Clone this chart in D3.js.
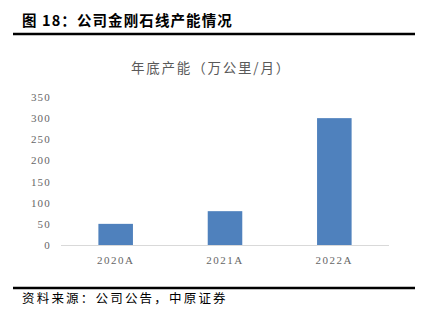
<!DOCTYPE html>
<html>
  <head>
    <meta charset="UTF-8" />
    <style>
      body { margin: 0; background: #fff; }
      svg { display: block; }
    </style>
  </head>
  <body>
    <svg></svg>
    <script src="https://d3js.org/d3.v7.min.js"></script>
    <script>
      const years = ["2020A", "2021A", "2022A"];
      const capacity = [50, 80, 300];
      const yTicks = [0, 50, 100, 150, 200, 250, 300, 350];

      let width = 430,
        height = 321;

      let svg = d3.select("svg").attr("width", width).attr("height", height);
      const cjk = "'Noto Sans CJK SC', sans-serif";
      const serif = "'Liberation Serif', 'DejaVu Serif', serif";

      // header
      svg.append("text")
        .attr("x", 22).attr("y", 26)
        .style("font-family", cjk).style("font-weight", "bold")
        .style("font-size", "14.5px").style("letter-spacing", "1.1px")
        .attr("fill", "#000")
        .text("图 18：公司金刚石线产能情况");
      svg.append("line")
        .attr("x1", 13).attr("x2", 415).attr("y1", 34).attr("y2", 34)
        .attr("stroke", "#000").attr("stroke-width", 2.5);

      // chart title
      svg.append("text")
        .attr("x", 211).attr("y", 73)
        .attr("text-anchor", "middle")
        .style("font-family", cjk).style("font-size", "13.5px")
        .style("letter-spacing", "1.8px")
        .attr("fill", "#595959")
        .text("年底产能（万公里/月）");

      // scales
      const x = d3.scaleBand().domain(years).range([61, 389]).paddingInner(0.684).paddingOuter(0.342);
      const y = d3.scaleLinear().domain([0, 350]).range([245, 97]);

      // y labels
      svg.append("g")
        .selectAll("text")
        .data(yTicks)
        .enter()
        .append("text")
        .attr("x", 51)
        .attr("y", (d) => y(d) + 4)
        .attr("text-anchor", "end")
        .style("font-family", serif).style("font-size", "11px")
        .style("letter-spacing", "1.2px")
        .attr("fill", "#666")
        .text((d) => d);

      // bars
      svg.append("g")
        .selectAll("rect")
        .data(capacity)
        .enter()
        .append("rect")
        .attr("x", (d, i) => x(years[i]))
        .attr("width", x.bandwidth())
        .attr("y", (d) => y(d))
        .attr("height", (d) => y(0) - y(d))
        .attr("fill", "#4f81bd");

      // x axis
      svg.append("line")
        .attr("x1", 61).attr("x2", 389)
        .attr("y1", y(0) + 0.5).attr("y2", y(0) + 0.5)
        .attr("stroke", "#d9d9d9").attr("stroke-width", 1);

      svg.append("g")
        .selectAll("text")
        .data(years)
        .enter()
        .append("text")
        .attr("x", (d) => x(d) + x.bandwidth() / 2)
        .attr("y", 264)
        .attr("text-anchor", "middle")
        .style("font-family", serif).style("font-size", "11px")
        .style("letter-spacing", "1.5px")
        .attr("fill", "#666")
        .text((d) => d);

      // footer
      svg.append("line")
        .attr("x1", 13).attr("x2", 415).attr("y1", 288).attr("y2", 288)
        .attr("stroke", "#000").attr("stroke-width", 2.5);
      svg.append("text")
        .attr("x", 22).attr("y", 303)
        .style("font-family", cjk).style("font-size", "12.5px")
        .style("letter-spacing", "2.2px")
        .attr("fill", "#000")
        .text("资料来源：公司公告，中原证券");
    </script>
  </body>
</html>
